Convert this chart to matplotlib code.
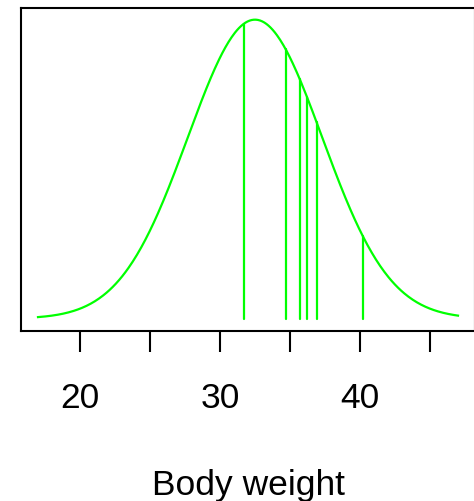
import numpy as np
import matplotlib
matplotlib.use("Agg")
import matplotlib.pyplot as plt

# sample body weights (vertical lines) and fitted normal curve
weights = [31.7, 34.7, 35.7, 36.2, 36.9, 40.2]
pop_mean = 32.5
pop_sd = 4.8
x_from, x_to = 17, 47

tick_pos = [20, 25, 30, 35, 40, 45]
tick_labels = ["20", "", "30", "", "40", ""]


def dnorm(x, m, s):
    return np.exp(-0.5 * ((x - m) / s) ** 2) / (s * np.sqrt(2 * np.pi))


plt.rcParams["font.family"] = ["Liberation Sans", "DejaVu Sans"]

fig = plt.figure(figsize=(4.74, 5.02), dpi=100)
W, H = 474, 502
left_px, right_px = 21.2, 474.8
top_px, bot_px = 8.7, 331.7
ax = fig.add_axes([left_px / W, 1 - bot_px / H,
                   (right_px - left_px) / W, (bot_px - top_px) / H])

xs = np.linspace(x_from, x_to, 400)
ys = dnorm(xs, pop_mean, pop_sd)
green = "#00ff00"
ax.plot(xs, ys, color=green, lw=1.6)
w = np.array(weights)
ax.vlines(w, 0, dnorm(w, pop_mean, pop_sd), color=green, lw=1.6,
          capstyle="round")

span = x_to - x_from
ax.set_xlim(x_from - 0.04 * span, x_to + 0.04 * span)
top = ys.max()
ax.set_ylim(-0.04 * top, top * 1.04)

for s in ax.spines.values():
    s.set_linewidth(1.5)
ax.set_yticks([])
ax.set_xticks(tick_pos)
ax.set_xticklabels(tick_labels, fontsize=25.5)
ax.tick_params(axis="x", length=15, width=1.5, pad=21)

fig.text(0.5 * (left_px + right_px) / W, 1 - 495 / H, "Body weight",
         ha="center", va="baseline", fontsize=25.5)

fig.savefig("out.png", dpi=100)
